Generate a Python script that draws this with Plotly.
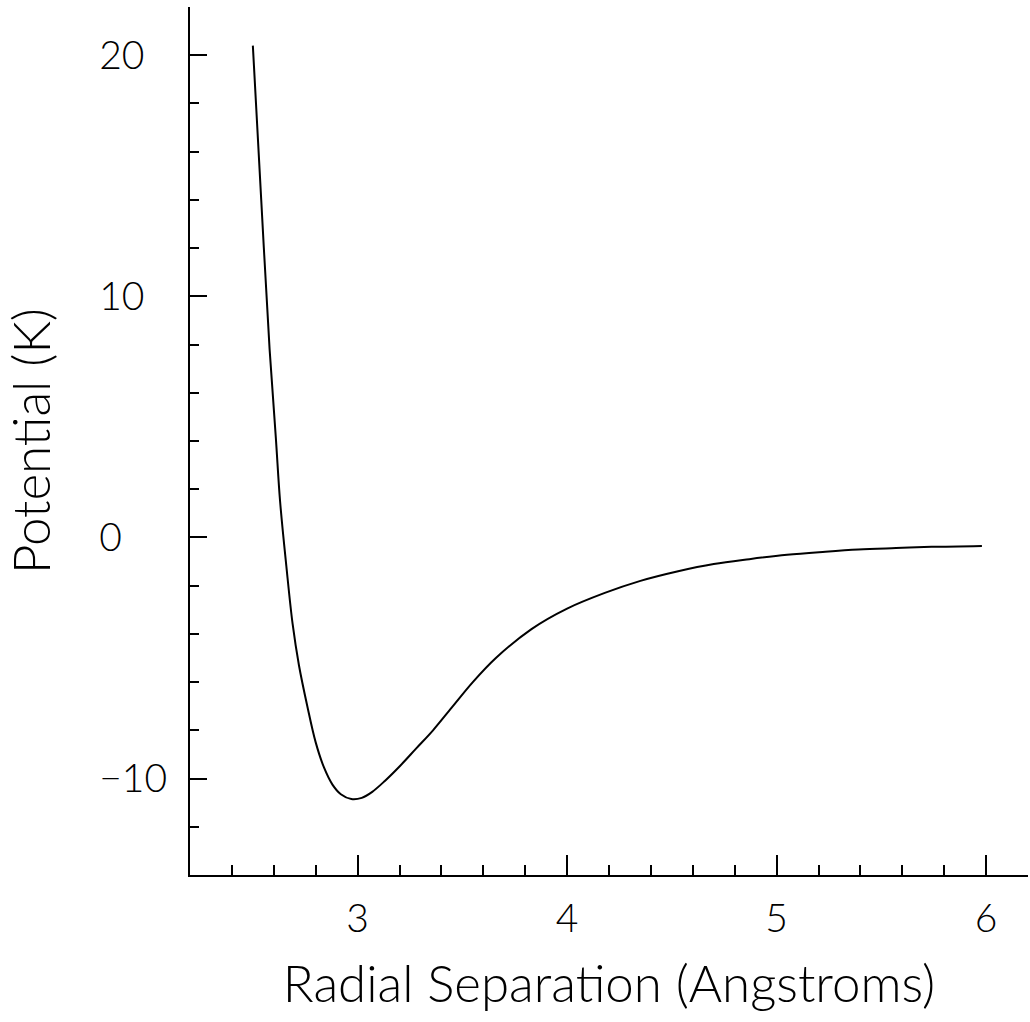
import plotly.graph_objects as go

# Radial separation (Angstroms) and potential (K)
r_angstrom = [2.50, 2.54, 2.58, 2.61, 2.63, 2.66, 2.69, 2.72, 2.76, 2.80,
              2.84, 2.88, 2.92, 2.97, 3.02, 3.07, 3.13, 3.20, 3.28, 3.36,
              3.45, 3.55, 3.66, 3.83, 4.00, 4.18, 4.35, 4.53, 4.70, 4.87,
              5.05, 5.22, 5.39, 5.57, 5.74, 5.98]
potential_k = [20.4, 14.0, 7.8, 4.1, 1.5, -1.2, -3.6, -5.3, -7.0, -8.5,
               -9.55, -10.25, -10.65, -10.85, -10.8, -10.55, -10.1, -9.5, -8.75, -8.0,
               -7.05, -6.0, -5.0, -3.8, -2.95, -2.3, -1.8, -1.4, -1.1, -0.9,
               -0.72, -0.6, -0.5, -0.44, -0.39, -0.35]

x_ticks = [3, 4, 5, 6]
y_ticks = [-10, 0, 10, 20]
y_tick_text = ["\u221210", "0", "10", "20"]

FONT = "Lato, DejaVu Sans, sans-serif"

fig = go.Figure()
fig.add_trace(go.Scatter(
    x=r_angstrom, y=potential_k, mode="lines",
    line=dict(color="black", width=2, shape="spline", smoothing=1.0),
    showlegend=False, hoverinfo="skip",
))

fig.update_layout(
    width=1030, height=1022,
    margin=dict(l=190, r=2, t=7, b=147),
    paper_bgcolor="white", plot_bgcolor="white",
    font=dict(family=FONT, color="black", weight=300),
    xaxis=dict(
        range=[2.2, 6.2], tickvals=x_ticks, ticktext=[str(v) for v in x_ticks],
        ticks="inside", ticklen=20, tickwidth=2, tickcolor="black",
        minor=dict(dtick=0.2, tick0=2.2, ticks="inside", ticklen=10, tickwidth=2, tickcolor="black"),
        showline=True, linewidth=2, linecolor="black", showgrid=False, zeroline=False,
        tickfont=dict(size=39, family=FONT, color="black", weight=300), ticklabelstandoff=8,
        automargin=False,
        title=dict(text="Radial Separation (Angstroms)",
                   font=dict(size=51, family=FONT, color="black", weight=300), standoff=28),
    ),
    yaxis=dict(
        range=[-14, 22], tickvals=y_ticks, ticktext=y_tick_text,
        ticks="inside", ticklen=17, tickwidth=2, tickcolor="black",
        minor=dict(dtick=2, tick0=-14, ticks="inside", ticklen=9, tickwidth=2, tickcolor="black"),
        showline=True, linewidth=2, linecolor="black", showgrid=False, zeroline=False,
        tickfont=dict(size=39, family=FONT, color="black", weight=300),
        ticklabelposition="inside", ticklabelstandoff=-103,
        automargin=False,
        title=dict(text="Potential (K)",
                   font=dict(size=51, family=FONT, color="black", weight=300), standoff=145),
    ),
)

fig.write_html("out.html")
